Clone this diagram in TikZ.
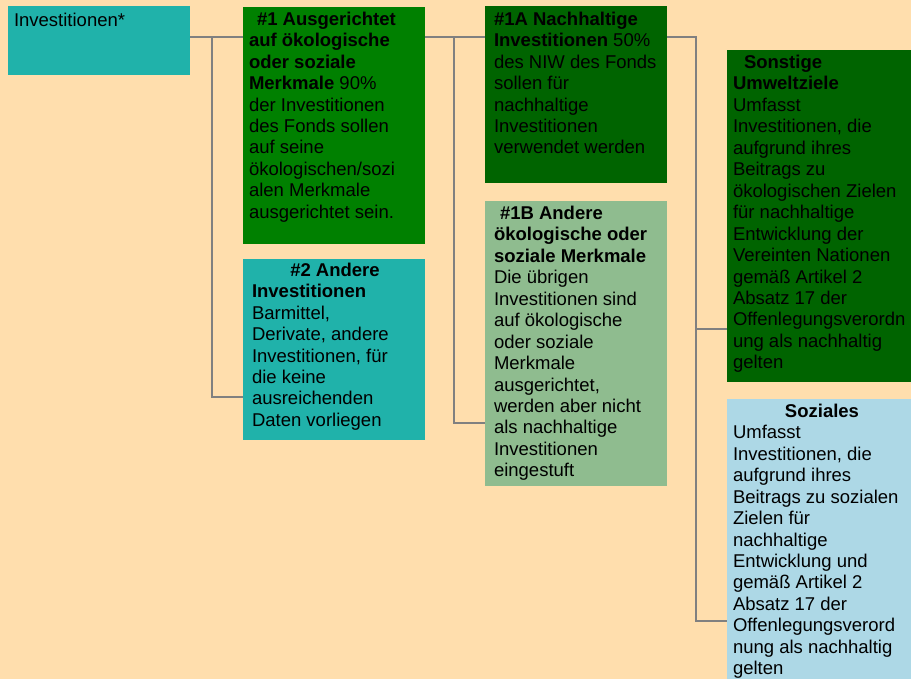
\documentclass[tikz,border=0pt]{standalone}
\usepackage{fontspec}
\setmainfont{Liberation Sans}
\definecolor{bgc}{HTML}{FFDEAD}
\definecolor{cteal}{HTML}{20B2AA}
\definecolor{cgreen}{HTML}{008000}
\definecolor{cdgreen}{HTML}{006400}
\definecolor{csea}{HTML}{8FBC8F}
\definecolor{cblue}{HTML}{ADD8E6}
\definecolor{cline}{HTML}{808080}
\begin{document}
\begin{tikzpicture}[x=1pt,y=-1pt,
  box/.style={draw=none,inner sep=0pt,outer sep=0pt,anchor=north west},
  txt/.style={inner sep=0pt,outer sep=0pt,anchor=north west,align=left,
    font=\fontsize{18.5}{21.45}\selectfont,text=black},
  conn/.style={draw=cline,line width=2.2pt}]
\fill[bgc] (0,0) rectangle (911,679);
\useasboundingbox (0,0) rectangle (911,679);
% boxes
\node[box,fill=cteal,minimum width=182pt,minimum height=69pt] (inv) at (8,6) {};
\node[box,fill=cgreen,minimum width=182pt,minimum height=237pt] (b1) at (243,7) {};
\node[box,fill=cteal,minimum width=182pt,minimum height=181pt] (b2) at (243,259) {};
\node[box,fill=cdgreen,minimum width=182pt,minimum height=177pt] (b1a) at (485,6) {};
\node[box,fill=csea,minimum width=182pt,minimum height=285pt] (b1b) at (485,201) {};
\node[box,fill=cdgreen,minimum width=184pt,minimum height=332pt] (sonst) at (727,50) {};
\node[box,fill=cblue,minimum width=184pt,minimum height=280pt] (soz) at (727,399) {};
% texts
\node[txt] (invt) at (14,11.2) {\strut Investitionen*};
\node[txt] (b1t) at (249,10.2) {\strut\hspace*{8pt}\textbf{\#1 Ausgerichtet}\\
\textbf{auf ökologische}\\ \textbf{oder soziale}\\ \textbf{Merkmale} 90\%\\
der Investitionen\\ des Fonds sollen\\ auf seine\\ ökologischen/sozi\\
alen Merkmale\\ ausgerichtet sein.};
\node[txt] (b2t) at (252,261.2) {\strut\makebox[166pt][c]{\textbf{\#2 Andere}}\\
\textbf{Investitionen}\\ Barmittel,\\ Derivate, andere\\ Investitionen, für\\
die keine\\ ausreichenden\\ Daten vorliegen};
\node[txt] (b1at) at (494,10.2) {\strut\textbf{\#1A Nachhaltige}\\
\textbf{Investitionen} 50\%\\ des NIW des Fonds\\ sollen für\\ nachhaltige\\
Investitionen\\ verwendet werden};
\node[txt] (b1bt) at (494,204.4) {\strut\hspace*{6pt}\textbf{\#1B Andere}\\
\textbf{ökologische oder}\\ \textbf{soziale Merkmale}\\ Die übrigen\\
Investitionen sind\\ auf ökologische\\ oder soziale\\ Merkmale\\ ausgerichtet,\\
werden aber nicht\\ als nachhaltige\\ Investitionen\\ eingestuft};
\node[txt] (sonstt) at (733,53.5) {\strut\hspace*{11pt}\textbf{Sonstige}\\
\textbf{Umweltziele}\\ Umfasst\\ Investitionen, die\\ aufgrund ihres\\
Beitrags zu\\ ökologischen Zielen\\ für nachhaltige\\ Entwicklung der\\
Vereinten Nationen\\ gemäß Artikel 2\\ Absatz 17 der\\ Offenlegungsverordn\\
ung als nachhaltig\\ gelten};
\node[txt] (sozt) at (733,402.3) {\strut\makebox[178pt][c]{\textbf{Soziales}}\\
Umfasst\\ Investitionen, die\\ aufgrund ihres\\ Beitrags zu sozialen\\
Zielen für\\ nachhaltige\\ Entwicklung und\\ gemäß Artikel 2\\ Absatz 17 der\\
Offenlegungsverord\\ nung als nachhaltig\\ gelten};
% connector coordinates
\coordinate (r1) at (0,37);
\coordinate (bus1) at (212,37);
\coordinate (bus2) at (454,37);
\coordinate (bus3) at (696,37);
\coordinate (y2) at (0,397);
\coordinate (y1b) at (0,423);
\coordinate (ys) at (0,329);
\coordinate (yz) at (0,621);
% connectors
\draw[conn] (inv.east |- r1) -- (b1.west |- r1);
\draw[conn] (bus1) |- (b2.west |- y2);
\draw[conn] (b1.east |- r1) -- (b1a.west |- r1);
\draw[conn] (bus2) |- (b1b.west |- y1b);
\draw[conn] (b1a.east |- r1) -- (bus3) |- (soz.west |- yz);
\draw[conn] (bus3 |- ys) -- (sonst.west |- ys);
\end{tikzpicture}
\end{document}
